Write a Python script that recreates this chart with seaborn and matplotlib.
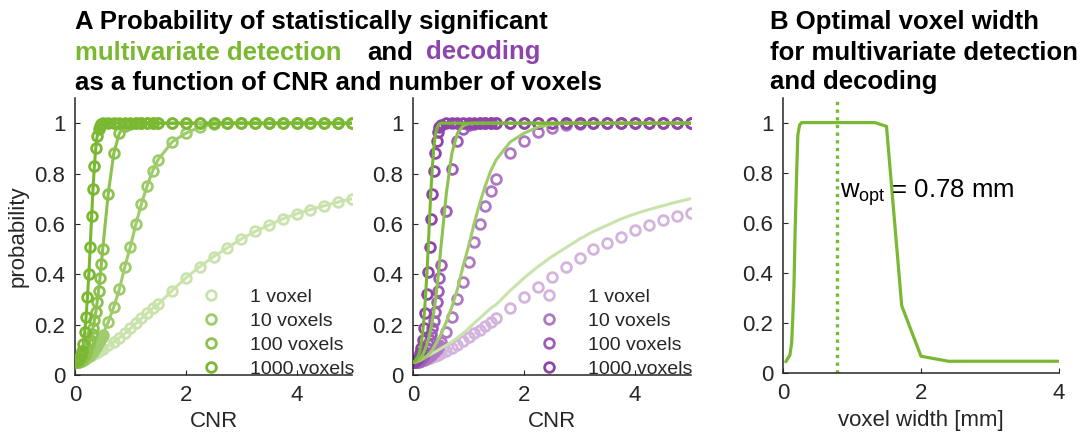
import numpy as np
import pandas as pd
import matplotlib
matplotlib.use("Agg")
import matplotlib.pyplot as plt
import seaborn as sns
from matplotlib.colors import to_rgb
from matplotlib.ticker import FuncFormatter

# ---------------------------------------------------------------- data
# contrast-to-noise ratio grid (dense near zero)
cnr = [0, 0.025, 0.05, 0.075, 0.1, 0.125, 0.15, 0.175, 0.2, 0.225, 0.25, 0.275,
       0.3, 0.325, 0.35, 0.375, 0.4, 0.425, 0.45, 0.475, 0.5,
       0.6, 0.7, 0.8, 0.9, 1.0, 1.1, 1.2, 1.3, 1.4,
       1.5, 1.75, 2.0, 2.25, 2.5, 2.75, 3.0, 3.25, 3.5, 3.75, 4.0, 4.25, 4.5, 4.75, 5.0]

voxel_labels = ["1 voxel", "10 voxels", "100 voxels", "1000 voxels"]

# probability of significant multivariate detection
detection_1 = [.050, .051, .053, .055, .057, .059, .062, .065, .068, .071, .074, .077,
               .080, .083, .086, .089, .092, .095, .098, .102, .105,
               .118, .132, .148, .165, .185, .205, .225, .245, .265,
               .280, .335, .385, .430, .470, .505, .540, .570, .595, .620, .640, .657, .672, .687, .700]
detection_10 = [.050, .050, .051, .053, .055, .057, .060, .063, .067, .071, .076, .081,
                .087, .093, .100, .110, .120, .130, .140, .150, .160,
                .210, .270, .340, .430, .510, .600, .680, .750, .810,
                .855, .925, .960, .985, .995, 1, 1, 1, 1, 1, 1, 1, 1, 1, 1]
detection_100 = [.050, .051, .053, .056, .060, .065, .072, .081, .092, .106, .122, .140,
                 .162, .188, .217, .250, .290, .335, .385, .440, .500,
                 .720, .880, .960, .990, .998, 1, 1, 1, 1,
                 1, 1, 1, 1, 1, 1, 1, 1, 1, 1, 1, 1, 1, 1, 1]
detection_1000 = [.050, .054, .060, .067, .078, .097, .125, .170, .230, .310, .400, .510,
                  .630, .740, .830, .900, .950, .975, .990, .997, 1,
                  1, 1, 1, 1, 1, 1, 1, 1, 1,
                  1, 1, 1, 1, 1, 1, 1, 1, 1, 1, 1, 1, 1, 1, 1]

# probability of significant decoding
decoding_1 = [.050, .050, .051, .052, .054, .055, .056, .058, .060, .062, .064, .066,
              .068, .070, .072, .074, .077, .079, .081, .083, .086,
              .096, .108, .120, .135, .150, .165, .180, .195, .210,
              .225, .265, .310, .350, .390, .430, .465, .500, .525, .550, .575, .597, .615, .630, .645]
decoding_10 = [.050, .050, .051, .052, .053, .054, .056, .058, .061, .064, .067, .071,
               .075, .080, .085, .090, .097, .104, .112, .120, .130,
               .170, .230, .300, .370, .450, .530, .600, .670, .730,
               .780, .880, .930, .963, .982, .992, .997, 1, 1, 1, 1, 1, 1, 1, 1]
decoding_100 = [.050, .050, .052, .054, .057, .061, .066, .073, .082, .093, .106, .122,
                .140, .162, .187, .215, .250, .290, .335, .385, .435,
                .650, .820, .930, .975, .993, .998, 1, 1, 1,
                1, 1, 1, 1, 1, 1, 1, 1, 1, 1, 1, 1, 1, 1, 1]
decoding_1000 = [.050, .053, .058, .064, .073, .087, .108, .140, .185, .245, .320, .410,
                 .510, .620, .720, .810, .880, .930, .965, .985, .994,
                 1, 1, 1, 1, 1, 1, 1, 1, 1,
                 1, 1, 1, 1, 1, 1, 1, 1, 1, 1, 1, 1, 1, 1, 1]

# probability as a function of voxel width
voxel_width = [0.04, 0.10, 0.125, 0.14, 0.16, 0.175, 0.20, 0.215, 0.24, 0.27,
               0.78, 1.33, 1.50, 1.72, 2.0, 2.4, 4.0]
p_width = [0.046, 0.073, 0.12, 0.21, 0.36, 0.56, 0.82, 0.95, 0.99, 1.0,
           1.0, 1.0, 0.985, 0.27, 0.068, 0.048, 0.048]
w_opt = 0.78

# ---------------------------------------------------------------- style
sns.set_style("ticks")
plt.rcParams.update({
    "axes.edgecolor": "#262626",
    "axes.linewidth": 1.1,
    "xtick.color": "#262626",
    "ytick.color": "#262626",
    "xtick.direction": "in",
    "ytick.direction": "in",
    "xtick.major.size": 3.5,
    "ytick.major.size": 3.5,
    "xtick.major.pad": 7,
    "ytick.major.pad": 7,
    "xtick.labelsize": 16,
    "ytick.labelsize": 16,
    "axes.labelsize": 16,
    "axes.labelcolor": "#262626",
    "mathtext.fontset": "custom",
    "mathtext.rm": "Liberation Sans",
})
plt.rcParams["font.family"] = ["Liberation Sans", "DejaVu Sans"]

GREEN = "#7ab832"
PURPLE = "#8e44ab"
shade = [0.40, 0.72, 0.86, 1.0]


def tint(color, amount):
    rgb = np.array(to_rgb(color))
    return tuple(1 - amount * (1 - rgb))


green_shades = [tint(GREEN, a) for a in shade]
purple_shades = [tint(PURPLE, a) for a in shade]

frames = []
for lab, det, dec in zip(voxel_labels,
                         [detection_1, detection_10, detection_100, detection_1000],
                         [decoding_1, decoding_10, decoding_100, decoding_1000]):
    frames.append(pd.DataFrame({"cnr": cnr, "detection": det, "decoding": dec, "voxels": lab}))
df = pd.concat(frames, ignore_index=True)
df_width = pd.DataFrame({"width": voxel_width, "p": p_width})

# ---------------------------------------------------------------- figure
W, H = 1087, 434
fig = plt.figure(figsize=(W / 100, H / 100), dpi=100)


def axes_px(x0, x1, y_top, y_bot):
    return fig.add_axes([x0 / W, 1 - y_bot / H, (x1 - x0) / W, (y_bot - y_top) / H])


ax1 = axes_px(75, 352, 98, 375)
ax2 = axes_px(413, 690.5, 98, 375)
ax3 = axes_px(783, 1059, 97.5, 373.3)

marker_kw = dict(linestyle="", marker="o", markersize=7.0, markerfacecolor="none",
                 markeredgewidth=2.0)

# panel A, left: detection lines and markers
for lab, col in zip(voxel_labels, green_shades):
    sub = df[df["voxels"] == lab]
    sns.lineplot(data=sub, x="cnr", y="detection", ax=ax1, color=col, lw=2.2,
                 label="_nolegend_", zorder=2)
    sns.lineplot(data=sub, x="cnr", y="detection", ax=ax1, color=col,
                 markeredgecolor=col, label=lab, zorder=3, **marker_kw)

# panel A, right: decoding markers with detection lines on top
for lab, gcol, pcol in zip(voxel_labels, green_shades, purple_shades):
    sub = df[df["voxels"] == lab]
    sns.lineplot(data=sub, x="cnr", y="decoding", ax=ax2, color=pcol,
                 markeredgecolor=pcol, label=lab, zorder=2, **marker_kw)
for lab, gcol in zip(voxel_labels, green_shades):
    sub = df[df["voxels"] == lab]
    sns.lineplot(data=sub, x="cnr", y="detection", ax=ax2, color=gcol, lw=2.2,
                 label="_nolegend_", zorder=3)

# panel B
sns.lineplot(data=df_width, x="width", y="p", ax=ax3, color=GREEN, lw=2.3, zorder=3)
ax3.axvline(w_opt, color=GREEN, lw=2.4, ls=(0, (1, 1.3)), zorder=2)
ax3.text(0.82, 0.70, r"$\mathregular{w_{opt}}$ = 0.78 mm", fontsize=18.5,
         color="black", ha="left", va="baseline")

fmt = FuncFormatter(lambda v, p: f"{v:g}")
for ax, xmax in ((ax1, 5), (ax2, 5), (ax3, 4)):
    ax.set_xlim(0, xmax)
    ax.set_ylim(0, 1.1)
    ax.set_xticks([0, 2, 4])
    ax.set_yticks([0, 0.2, 0.4, 0.6, 0.8, 1.0])
    ax.xaxis.set_major_formatter(fmt)
    ax.yaxis.set_major_formatter(fmt)
    sns.despine(ax=ax)
    ax.set_ylabel("")

ax1.set_xlabel("CNR")
ax2.set_xlabel("CNR")
ax3.set_xlabel("voxel width [mm]")
ax1.set_ylabel("probability")

for ax in (ax1, ax2):
    ax.legend(loc="lower left", bbox_to_anchor=(0.455, -0.01), frameon=False,
              fontsize=14, handlelength=1.0, handletextpad=1.5, labelspacing=0.32,
              borderpad=0, borderaxespad=0, numpoints=1)

# titles
tkw = dict(fontsize=18.5, fontweight="bold", va="baseline", ha="left")
fig.text(75 / W, 1 - 29.5 / H, "A Probability of statistically significant", color="black", **tkw)
fig.text(75 / W, 1 - 59.5 / H, "multivariate detection", color=GREEN, **tkw)
fig.text(367 / W, 1 - 59.5 / H, "and", color="black", **tkw)
fig.text(426 / W, 1 - 59.5 / H, "decoding", color=PURPLE, **tkw)
fig.text(75 / W, 1 - 89.5 / H, "as a function of CNR and number of voxels", color="black", **tkw)

fig.text(770 / W, 1 - 29.5 / H, "B Optimal voxel width", color="black", **tkw)
fig.text(770 / W, 1 - 59.5 / H, "for multivariate detection", color="black", **tkw)
fig.text(770 / W, 1 - 89.5 / H, "and decoding", color="black", **tkw)

fig.savefig("out.png", dpi=100)
